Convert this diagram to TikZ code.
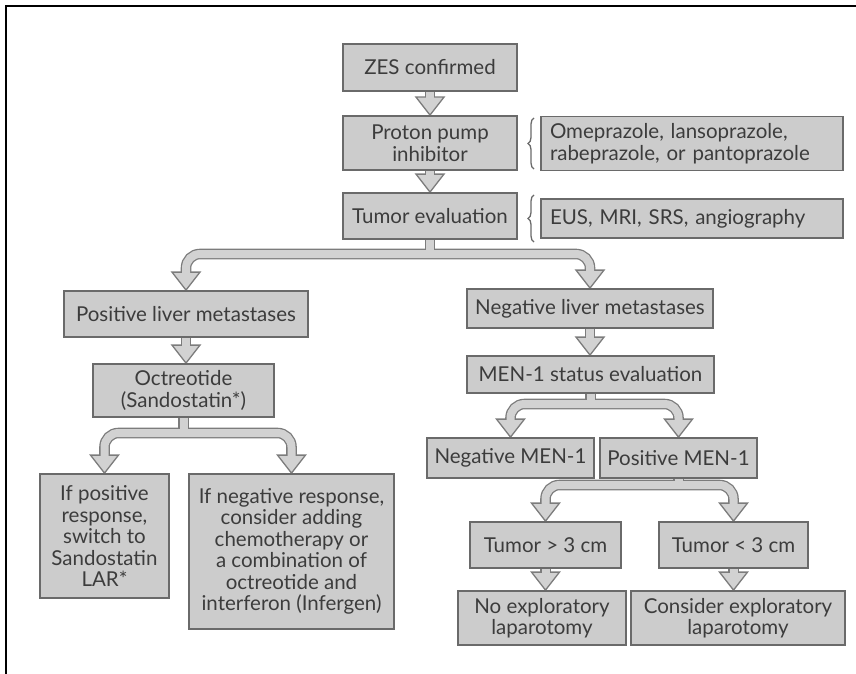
\documentclass[tikz,border=0pt]{standalone}
\usepackage{fontspec}
\setmainfont{Lato}
\usetikzlibrary{calc,decorations.pathreplacing}
\definecolor{boxfill}{HTML}{CCCCCC}
\definecolor{boxedge}{HTML}{6A6A6A}
\definecolor{afill}{HTML}{D2D2D2}
\definecolor{aedge}{HTML}{7C7C7C}
\definecolor{txt}{HTML}{3C3C3C}
\pgfdeclarelayer{bg}
\pgfsetlayers{bg,main}
% straight block arrow from node #1 to node #2
\newcommand\SArrow[2]{%
  \draw[aedge, line width=10.6] (#1.south) -- ($(#1.south |- #2.north)+(0,-18)$);
  \filldraw[draw=aedge, fill=afill, line width=1.3]
    ($(#1.south |- #2.north)+(-14,-18)$) -- ($(#1.south |- #2.north)+(14,-18)$)
    -- (#1.south |- #2.north) -- cycle;
  \draw[afill, line width=8] (#1.south) -- ($(#1.south |- #2.north)+(0,-16.5)$);
}
% branching block arrow: parent #1, children #2 and #3, band at y=#4
\newcommand\BBranch[4]{%
  \coordinate (bandy) at (0,#4);
  \draw[aedge, line width=10.6] (#1.south) -- (#1.south |- bandy);
  \draw[aedge, line width=10.6, rounded corners=14]
    ($(#2.north)+(0,-18)$) -- (#2.north |- bandy) -- (#3.north |- bandy) -- ($(#3.north)+(0,-18)$);
  \filldraw[draw=aedge, fill=afill, line width=1.3]
    ($(#2.north)+(-14,-18)$) -- ($(#2.north)+(14,-18)$) -- (#2.north) -- cycle;
  \filldraw[draw=aedge, fill=afill, line width=1.3]
    ($(#3.north)+(-14,-18)$) -- ($(#3.north)+(14,-18)$) -- (#3.north) -- cycle;
  \draw[afill, line width=8] (#1.south) -- (#1.south |- bandy);
  \draw[afill, line width=8, rounded corners=14]
    ($(#2.north)+(0,-16.5)$) -- (#2.north |- bandy) -- (#3.north |- bandy) -- ($(#3.north)+(0,-16.5)$);
}
\tikzset{
  bx/.style={draw=boxedge, fill=boxfill, line width=1.8, align=center, inner sep=0pt,
    text=txt, font=\fontsize{20.5}{21.5}\selectfont},
  lbx/.style={bx, align=left, inner xsep=9pt},
  brc/.style={draw=boxedge, line width=1.3, decorate, decoration={brace, amplitude=6pt}},
}
\begin{document}
\begin{tikzpicture}[x=1pt, y=-1pt]
\useasboundingbox (0,0) rectangle (856,674);
\draw[line width=2.3] (6.2,674) -- (6.2,6.2) -- (856,6.2);

\node[bx, minimum width=174, minimum height=47] (zes) at (430,67.5) {ZES confirmed};
\node[bx, minimum width=174, minimum height=54] (ppi) at (430,143) {Proton pump\\inhibitor};
\node[lbx, text width=284, minimum height=54] (ome) at (692,143.5) {Omeprazole, lansoprazole,\\rabeprazole, or pantoprazole};
\node[bx, minimum width=174, minimum height=46] (tum) at (430,216) {Tumor evaluation};
\node[lbx, text width=284, minimum height=39] (eus) at (692,218.5) {EUS, MRI, SRS, angiography};
\node[bx, minimum width=244, minimum height=46] (pos) at (186,314) {Positive liver metastases};
\node[bx, minimum width=246, minimum height=39] (neg) at (590,308.5) {Negative liver metastases};
\node[bx, minimum width=181, minimum height=53] (oct) at (183.5,390.5) {Octreotide\\(Sandostatin*)};
\node[bx, minimum width=247, minimum height=37] (men) at (590.5,374.5) {MEN-1 status evaluation};
\node[bx, minimum width=129, minimum height=124] (ifp) at (104.5,536) {If positive\\response,\\switch to\\Sandostatin\\LAR*};
\node[bx, minimum width=205, minimum height=155] (ifn) at (291.5,551.5) {If negative response,\\consider adding\\chemotherapy or\\a combination of\\octreotide and\\interferon (Infergen)};
\node[bx, minimum width=167, minimum height=40] (nm1) at (510.5,458) {Negative MEN-1};
\node[bx, minimum width=157, minimum height=40] (pm1) at (678.5,458) {Positive MEN-1};
\node[bx, minimum width=151, minimum height=46] (t3g) at (545.5,545) {Tumor > 3 cm};
\node[bx, minimum width=149, minimum height=46] (t3l) at (733.5,545) {Tumor < 3 cm};
\node[bx, minimum width=168, minimum height=54] (noe) at (542,618) {No exploratory\\laparotomy};
\node[bx, minimum width=214, minimum height=54] (coe) at (738,618) {Consider exploratory\\laparotomy};

\draw[brc] (534,169) -- (534,118);
\draw[brc] (534,242) -- (534,195);

\begin{pgfonlayer}{bg}
\SArrow{zes}{ppi}
\SArrow{ppi}{tum}
\SArrow{pos}{oct}
\SArrow{neg}{men}
\SArrow{t3g}{noe}
\SArrow{t3l}{coe}
\BBranch{tum}{pos}{neg}{254}
\BBranch{oct}{ifp}{ifn}{433}
\BBranch{men}{nm1}{pm1}{404}
\BBranch{pm1}{t3g}{t3l}{485}
\end{pgfonlayer}
\end{tikzpicture}
\end{document}
